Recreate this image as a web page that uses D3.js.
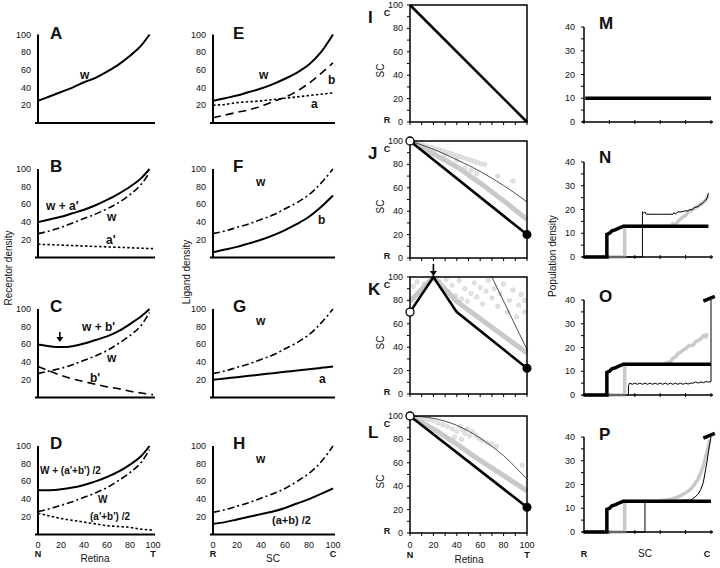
<!DOCTYPE html>
<html><head><meta charset="utf-8">
<script src="https://cdn.jsdelivr.net/npm/d3@7"></script>
<style>body{margin:0;background:#fff}svg{display:block}</style>
</head><body><svg id="c" width="720" height="568"></svg>
<script>
// ================= DATA =================
const retinaX = [0,10,20,30,40,50,60,70,80,90,97];
const fullX   = [0,10,20,30,40,50,60,70,80,90,100];
const densTicks = [20,40,60,80,100];
const pctTicks  = [0,20,40,60,80,100];
const popTicks  = [0,10,20,30,40];

// Column 1: receptor density vs retina
const A_w   = [25,30,35,40,46,51,58,66,76,88,100];
const B_wa  = [40,43,46,50,54,59,65,72,80,90,100];
const B_w   = [27,30,34,39,44,49,55,62,71,83,96];
const B_a   = [15,14.5,14,13.5,13,12.5,12,11.5,11,10.5,10];
const C_wb  = [60,58,57,58,61,65,69,75,83,92,100];
const C_w   = [27,30,33,37,42,47,53,61,70,82,96];
const C_b   = [35,30,25,21,18,15,12,10,7,5,3];
const D_wab = [50,50,51,53,56,60,65,71,79,89,100];
const D_w   = [26,29,33,37,42,47,53,61,70,82,96];
const D_ab  = [24,21,18,16,14,12,10,9,8,6,5];

// Column 2: ligand density vs SC
const E_w  = [25,28,31,35,39,44,50,57,66,80,100];
const E_b  = [6,9,12,15,19,24,29,36,45,56,68];
const E_a  = [20,21,23,24,25,26.5,28,29.5,31,32.5,34];
const F_w  = [27,30,34,38,43,48,55,62,71,84,100];
const F_b  = [6,9,12,16,20,25,31,38,46,57,70];
const G_w  = [27,30,34,38,43,48,55,62,71,84,100];
const G_a  = [20,21.5,23,24.5,26,27.5,29,30.5,32,33.5,35];
const H_w  = [25,28,32,36,41,46,52,60,69,82,100];
const H_ab = [12,14,17,20,23,26,30,35,40,46,52];

// Column 3: retina -> SC maps  [retina, SC]
const I_thick = [[0,100],[100,0]];
const J_thick = [[0,100],[100,20]];
const J_gray  = [[0,100],[20,89],[40,78],[60,64],[80,49],[100,33]];
const J_thin  = [[0,100],[20,93],[40,84],[60,74],[80,62],[100,48]];
const J_dots  = [[4,98.5],[7,97.5],[10,97],[13,96],[16,95],[19,94.5],[22,93.5],[25,92.5],[28,91.5],[31,90.5],[34,89.5],[37,88.5],[40,87.5],[43,86.5],[46,85.5],[49,84.5],[52,83.5],[55,82.5],[58,81.5],[61,80.5],[64,80],[47,77],[52,75],[57,72],[75,70],[88,66],[12,94],[20,91],[30,88],[40,84]];
const K_thick = [[0,70],[20,100],[40,70],[100,22]];
const K_gray  = [[0,79],[20,100],[40,79],[100,35]];
const K_thin  = [[70,100],[100,38]];
const K_dots  = [[3,92],[6,96],[9,88],[12,94],[25,96],[28,91],[31,98],[33,87],[36,93],[39,84],[42,97],[44,81],[47,90],[49,79],[52,86],[55,95],[57,83],[60,91],[62,77],[65,88],[67,97],[70,82],[72,90],[75,75],[77,86],[80,94],[83,70],[85,80],[88,89],[91,66],[93,76],[95,85],[98,70],[98,80]];
const L_thick = [[0,100],[100,22]];
const L_gray  = [[0,100],[20,89],[40,76],[60,62],[80,49],[100,36]];
const L_thin  = [[0,100],[20,98],[40,92],[60,81],[80,66],[100,46]];
const L_dots  = [[4,99],[8,98],[12,97.5],[16,97],[20,96],[24,94],[28,92.5],[32,91],[36,89],[40,87],[43,91],[45,88],[47,85],[49,89],[51,83],[53,87],[56,84],[59,81],[62,79],[66,77],[70,76],[74,74],[38,82],[44,80],[96,58]];
const J_start = [0,100], J_end = [100,20];
const K_start = [0,70],  K_end = [100,22];
const L_start = [0,100], L_end = [100,22];

// Column 4: population density vs SC  [SC, density]
const M_thick = [[1,10],[100,10]];
const N_thick = [[0,0],[18,0],[18,9.5],[20,10],[22,11],[25,11.5],[28,12.3],[31,13],[98,13]];
const N_gray  = [[0,0],[32,0],[32,13],[68,13],[70,14],[72,13.5],[74,15],[76,16],[78,17],[80,17.5],[82,19],[84,19.5],[86,20],[88,21],[90,21.5],[92,22],[94,23],[96,24],[98,26]];
const N_thin  = [[0,0],[46,0],[46,19],[47,18.5],[48,19],[49,18],[60,18],[70,18],[71,18.7],[72,18],[73,18.7],[74,19],[77,19],[80,19.5],[82,19.3],[83,20],[85,19.8],[86,20.5],[88,21],[90,21.2],[91,22],[93,22.5],[95,23.5],[96,24],[97,25],[98,27]];
const O_thick = [[0,0],[18,0],[18,9.5],[20,10],[22,11],[25,11.5],[28,12.3],[31,13],[100,13]];
const O_gray  = [[0,0],[32,0],[32,13],[62,13],[65,13.5],[68,14],[70,15.5],[72,16],[74,17.5],[76,18],[78,19],[80,19.5],[82,20.5],[84,21],[86,21],[88,22.5],[90,23],[92,23.5],[94,25],[96,24.5],[97,26]];
const O_thin  = [[0,0],[35,0],[35,4],[36,5],[38,4.5],[40,5],[42,4.5],[44,5],[46,4.5],[48,5],[50,4.5],[52,5],[54,4.5],[56,5],[58,4.5],[60,5],[62,4.5],[64,5],[66,4.5],[68,5],[70,4.5],[72,5],[74,4.5],[76,5],[78,4.5],[80,5],[82,4.6],[84,5],[86,5],[88,5.5],[90,5],[92,5.5],[94,5.2],[96,5.6],[98,5.5],[100,5.6],[100,40]];
const O_break = [[94,39.5],[103,41.5]];
const P_thick = [[0,0],[18,0],[18,9.5],[20,10],[22,11],[25,11.5],[28,12.3],[31,13],[100,13]];
const P_gray  = [[0,0],[32,0],[32,13],[58,13],[64,13.5],[70,14],[75,15],[80,16.5],[84,18],[87,20],[90,22.5],[92,25],[94,28],[96,32],[98,36],[99,39]];
const P_thin  = [[0,0],[48,0],[48,13],[84,13.5],[87,14.5],[90,16],[92,18],[94,21],[95,24],[96,27],[97,30],[98,34],[99,37],[100,40]];
const P_break = [[94,39.5],[103,41.5]];

// ================= DRAWING =================
const svg = d3.select("#c");
const FONT = '"Liberation Sans", Arial, Helvetica, sans-serif';
function text(x, y, s, o = {}) {
  const t = svg.append("text").attr("x", x).attr("y", y).text(s)
    .attr("font-family", FONT).attr("font-size", o.size || 9)
    .attr("font-weight", o.bold ? "bold" : "normal")
    .attr("text-anchor", o.anchor || "start").attr("fill", o.fill || "#111");
  if (o.rot) t.attr("transform", `rotate(-90,${x},${y})`);
  return t;
}
function seg(x1, y1, x2, y2, w) {
  svg.append("line").attr("x1", x1).attr("y1", y1).attr("x2", x2).attr("y2", y2)
    .attr("stroke", "#000").attr("stroke-width", w || 1);
}
const STY = {
  solid:   {w: 2,   dash: null},
  dashdot: {w: 1.6, dash: "7,3,2,3"},
  dashed:  {w: 1.6, dash: "8,5"},
  dotted:  {w: 1.6, dash: "2.5,2.2"}
};

const c1 = [38, 153], c2 = [213, 333];
const rowTop = [34.5, 169, 309, 446];
const letterBase = [39, 172, 312, 449];

function dp(px, row, series, letter, lx, labels) {
  const x = d3.scaleLinear().domain([0,100]).range(px);
  const y = d3.scaleLinear().domain([0,100]).range([rowTop[row] + 88.5, rowTop[row]]);
  seg(px[0] - 3, y(0), px[1] + 2, y(0), 2);
  seg(px[0], y(0), px[0], y(100), 2);
  densTicks.forEach(v => text(px[0] - 7, y(v) + 3, v, {size: 9, anchor: "end"}));
  series.forEach(s => {
    const line = d3.line().x((d, i) => x(s.x[i])).y(d => y(d)).curve(d3.curveMonotoneX);
    svg.append("path").attr("d", line(s.y)).attr("fill", "none").attr("stroke", "#000")
      .attr("stroke-width", STY[s.style].w).attr("stroke-dasharray", STY[s.style].dash);
  });
  text(lx, letterBase[row], letter, {size: 17, bold: true});
  labels.forEach(l => text(l[1], l[2], l[0], {size: l[3] || 12, bold: true}));
  return {x, y};
}

dp(c1, 0, [{x: retinaX, y: A_w, style: "solid"}], "A", 50, [["w", 80, 79]]);
dp(c1, 1, [{x: retinaX, y: B_wa, style: "solid"}, {x: retinaX, y: B_w, style: "dashdot"}, {x: fullX, y: B_a, style: "dotted"}],
   "B", 50, [["w + a'", 46, 210], ["w", 107, 221], ["a'", 106, 244]]);
dp(c1, 2, [{x: retinaX, y: C_wb, style: "solid"}, {x: retinaX, y: C_w, style: "dashdot"}, {x: fullX, y: C_b, style: "dashed"}],
   "C", 50, [["w + b'", 82, 331], ["w", 107, 362], ["b'", 90, 382]]);
const dD = dp(c1, 3, [{x: retinaX, y: D_wab, style: "solid"}, {x: retinaX, y: D_w, style: "dashdot"}, {x: fullX, y: D_ab, style: "dotted"}],
   "D", 50, [["W + (a'+b') /2", 40, 474, 10], ["W", 98, 503, 10], ["(a'+b') /2", 90, 520, 10]]);

dp(c2, 0, [{x: fullX, y: E_w, style: "solid"}, {x: fullX, y: E_b, style: "dashed"}, {x: fullX, y: E_a, style: "dotted"}],
   "E", 233, [["w", 259, 79], ["b", 328, 84], ["a", 311, 108]]);
dp(c2, 1, [{x: fullX, y: F_w, style: "dashdot"}, {x: fullX, y: F_b, style: "solid"}],
   "F", 233, [["w", 256, 186], ["b", 318, 224]]);
dp(c2, 2, [{x: fullX, y: G_w, style: "dashdot"}, {x: fullX, y: G_a, style: "solid"}],
   "G", 233, [["w", 256, 325], ["a", 319, 383]]);
const dH = dp(c2, 3, [{x: fullX, y: H_w, style: "dashdot"}, {x: fullX, y: H_ab, style: "solid"}],
   "H", 233, [["w", 256, 463], ["(a+b) /2", 272, 524, 11]]);

// x labels for D and H
pctTicks.forEach(v => text(dD.x(v), 548, v, {size: 9, anchor: "middle"}));
text(dD.x(0), 557, "N", {size: 9, bold: true, anchor: "middle"});
text(dD.x(100), 557, "T", {size: 9, bold: true, anchor: "middle"});
text(95, 562, "Retina", {size: 10, anchor: "middle"});
pctTicks.forEach(v => text(dH.x(v), 548, v, {size: 9, anchor: "middle"}));
text(dH.x(0), 557, "R", {size: 9, bold: true, anchor: "middle"});
text(dH.x(100), 557, "C", {size: 9, bold: true, anchor: "middle"});
text(273, 562, "SC", {size: 10, anchor: "middle"});

// axis titles
text(12, 268, "Receptor density", {size: 10, anchor: "middle", rot: true});
text(190, 272, "Ligand density", {size: 10, anchor: "middle", rot: true});
text(556, 256, "Population density", {size: 10, anchor: "middle", rot: true});

// ---- map panels (column 3)
const mapTop = [5, 141, 277, 416];
const mapLetterBase = [23, 159, 295, 438];
function mapPanel(row, letter, parts) {
  const x = d3.scaleLinear().domain([0,100]).range([410, 527]);
  const y = d3.scaleLinear().domain([0,100]).range([mapTop[row] + 117, mapTop[row]]);
  const line = d3.line().x(d => x(d[0])).y(d => y(d[1]));
  if (parts.dots) svg.append("g").selectAll("circle").data(parts.dots).join("circle")
    .attr("cx", d => x(d[0])).attr("cy", d => y(d[1])).attr("r", 2.2)
    .attr("fill", "#e2e2e2").attr("stroke", "#cfcfcf").attr("stroke-width", 0.6);
  if (parts.gray) svg.append("path").attr("d", line(parts.gray)).attr("fill", "none")
    .attr("stroke", "#c9c9c9").attr("stroke-width", 5).attr("stroke-linejoin", "round");
  if (parts.thin) svg.append("path").attr("d", d3.line().x(d => x(d[0])).y(d => y(d[1])).curve(d3.curveMonotoneX)(parts.thin))
    .attr("fill", "none").attr("stroke", "#222").attr("stroke-width", 0.8);
  svg.append("path").attr("d", line(parts.thick)).attr("fill", "none")
    .attr("stroke", "#000").attr("stroke-width", 2.6).attr("stroke-linejoin", "miter");
  svg.append("rect").attr("x", x(0)).attr("y", y(100)).attr("width", x(100) - x(0)).attr("height", y(0) - y(100))
    .attr("fill", "none").attr("stroke", "#000").attr("stroke-width", 1.5);
  d3.range(0, 101, 10).forEach(v => {
    seg(x(0) - 3, y(v), x(0), y(v), 1);
    seg(x(v), y(0), x(v), y(0) + 3, 1);
  });
  pctTicks.forEach(v => text(x(0) - 7, y(v) + 3, v, {size: 9, anchor: "end"}));
  text(387, y(100) + 11, "C", {size: 9, bold: true, anchor: "middle"});
  text(387, y(0) + 1, "R", {size: 9, bold: true, anchor: "middle"});
  text(384, y(44), "SC", {size: 10, anchor: "middle", rot: true});
  text(368, mapLetterBase[row], letter, {size: 17, bold: true});
  if (parts.start) svg.append("circle").attr("cx", x(parts.start[0])).attr("cy", y(parts.start[1])).attr("r", 4)
    .attr("fill", "#fff").attr("stroke", "#000").attr("stroke-width", 1.3);
  if (parts.end) svg.append("circle").attr("cx", x(parts.end[0])).attr("cy", y(parts.end[1])).attr("r", 4.5)
    .attr("fill", "#000");
  return {x, y};
}
mapPanel(0, "I", {thick: I_thick});
mapPanel(1, "J", {thick: J_thick, gray: J_gray, thin: J_thin, dots: J_dots, start: J_start, end: J_end});
const mK = mapPanel(2, "K", {thick: K_thick, gray: K_gray, thin: K_thin, dots: K_dots, start: K_start, end: K_end});
const mL = mapPanel(3, "L", {thick: L_thick, gray: L_gray, thin: L_thin, dots: L_dots, start: L_start, end: L_end});
pctTicks.forEach(v => text(mL.x(v), 548, v, {size: 9, anchor: "middle"}));
text(mL.x(0), 558, "N", {size: 9, bold: true, anchor: "middle"});
text(mL.x(100), 558, "T", {size: 9, bold: true, anchor: "middle"});
text(469, 563, "Retina", {size: 10, anchor: "middle"});

// arrows (C and K)
function arrowDown(x, y1, y2) {
  seg(x, y1, x, y2 - 4, 1.6);
  svg.append("path").attr("d", `M${x - 3.5},${y2 - 5}L${x + 3.5},${y2 - 5}L${x},${y2}Z`).attr("fill", "#000");
}
arrowDown(dD.x(19), 332, 342);
arrowDown(mK.x(20), 264, 276);

// ---- population panels (column 4)
const popTop = [27, 162, 300, 437];
const popLetterBase = [29, 163, 302, 440];
function popPanel(row, letter, parts) {
  const x = d3.scaleLinear().domain([0,100]).range([584, 711]);
  const y = d3.scaleLinear().domain([0,40]).range([popTop[row] + 95, popTop[row]]);
  const line = d3.line().x(d => x(d[0])).y(d => y(d[1]));
  seg(x(0), y(0), x(0), y(40), 1.5);
  seg(x(0) - 2, y(0), 713, y(0), 1.5);
  d3.range(0, 41, 5).forEach(v => seg(x(0) - 3, y(v), x(0), y(v), 1));
  d3.range(0, 101, 20).forEach(v => seg(x(v), y(0) - 2, x(v), y(0) + 2, 1));
  popTicks.forEach(v => text(x(0) - 9, y(v) + 3, v, {size: 9, anchor: "end"}));
  if (parts.gray) svg.append("path").attr("d", line(parts.gray)).attr("fill", "none")
    .attr("stroke", "#c9c9c9").attr("stroke-width", 3.5);
  if (parts.thin) svg.append("path").attr("d", line(parts.thin)).attr("fill", "none")
    .attr("stroke", "#000").attr("stroke-width", 1);
  svg.append("path").attr("d", line(parts.thick)).attr("fill", "none")
    .attr("stroke", "#000").attr("stroke-width", 3.5);
  if (parts.brk) svg.append("path").attr("d", line(parts.brk)).attr("fill", "none")
    .attr("stroke", "#000").attr("stroke-width", 3.5);
  text(599, popLetterBase[row], letter, {size: 17, bold: true});
  return {x, y};
}
popPanel(0, "M", {thick: M_thick});
popPanel(1, "N", {thick: N_thick, gray: N_gray, thin: N_thin});
popPanel(2, "O", {thick: O_thick, gray: O_gray, thin: O_thin, brk: O_break});
const pP = popPanel(3, "P", {thick: P_thick, gray: P_gray, thin: P_thin, brk: P_break});
text(pP.x(0), 557, "R", {size: 9, bold: true, anchor: "middle"});
text(707, 557, "C", {size: 9, bold: true, anchor: "middle"});
text(645, 557, "SC", {size: 10, anchor: "middle"});
</script></body></html>
